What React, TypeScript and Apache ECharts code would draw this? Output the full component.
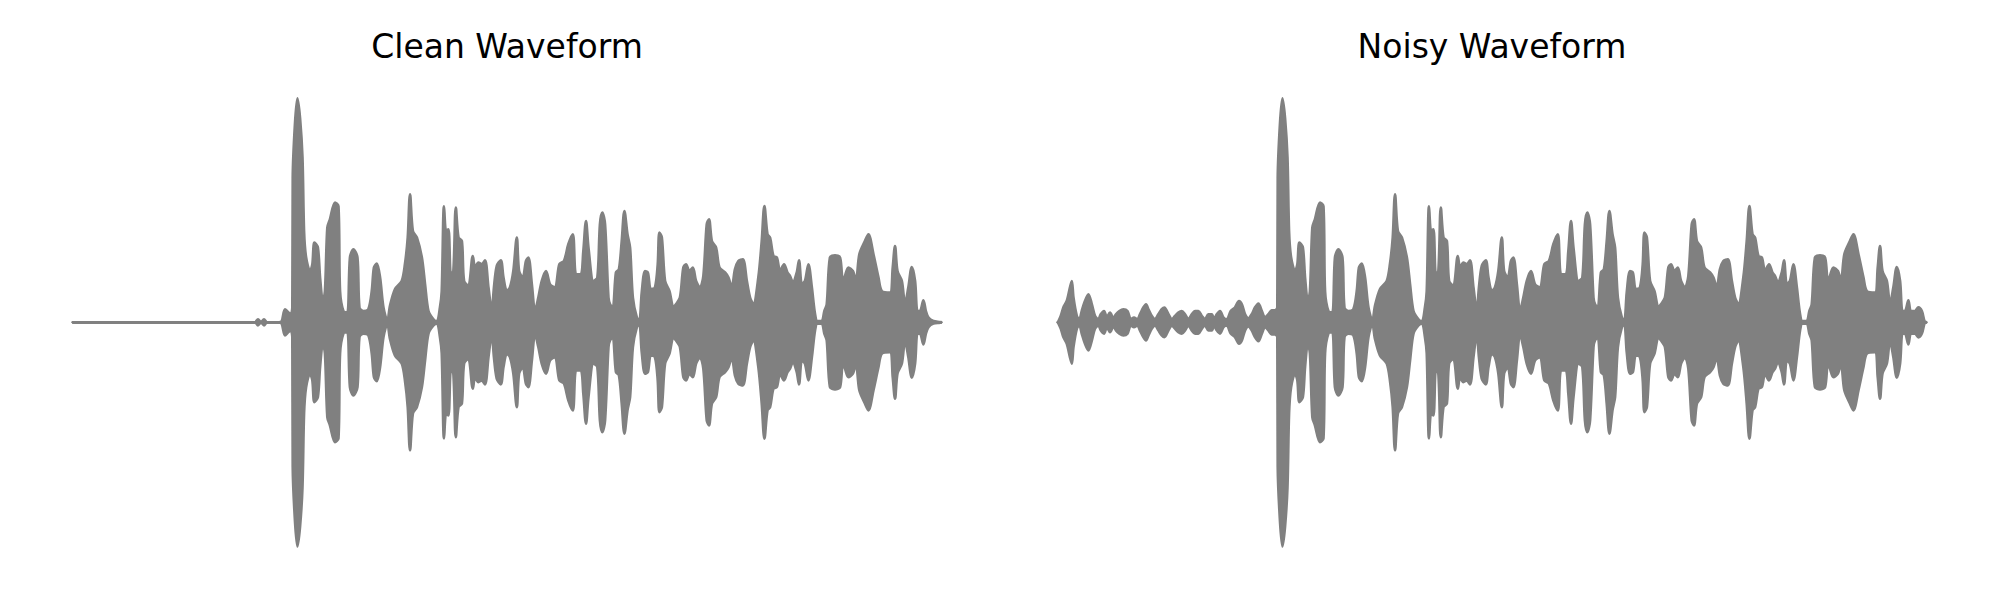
import React, { useEffect, useRef } from "react";
import * as echarts from "echarts";

const titles = ["Clean Waveform", "Noisy Waveform"];

// Envelope of the clean recording: [time (s), peak amplitude]
const cleanEnvelope: number[][] = [
  [0, 0], [0.91, 0], [0.925, 0.012], [0.94, 0], [0.955, 0.012], [0.97, 0], [1.03, 0],
  [1.044, 0.005], [1.06, 0.052], [1.077, 0.039], [1.089, 0.032], [1.097, 0.059],
  [1.099, 0.579], [1.11, 0.792], [1.122, 0.896], [1.135, 0.816], [1.147, 0.66],
  [1.155, 0.364], [1.165, 0.26], [1.185, 0.204], [1.197, 0.232], [1.207, 0.319],
  [1.224, 0.299], [1.235, 0.179], [1.249, 0.084], [1.26, 0.124], [1.272, 0.379],
  [1.285, 0.412], [1.31, 0.479], [1.327, 0.464], [1.335, 0.124], [1.352, 0.044],
  [1.372, 0.039], [1.385, 0.259], [1.402, 0.292], [1.422, 0.259], [1.432, 0.059],
  [1.452, 0.045], [1.477, 0.052], [1.494, 0.124], [1.505, 0.219], [1.519, 0.235],
  [1.535, 0.179], [1.552, 0.059], [1.572, 0.005], [1.585, 0.065], [1.61, 0.132],
  [1.644, 0.165], [1.66, 0.232], [1.674, 0.339], [1.685, 0.512], [1.699, 0.365],
  [1.719, 0.339], [1.744, 0.259], [1.76, 0.152], [1.777, 0.045], [1.802, 0.012],
  [1.82, 0.004], [1.835, 0.059], [1.844, 0.124], [1.855, 0.464], [1.865, 0.364],
  [1.877, 0.372], [1.889, 0.192], [1.902, 0.204], [1.914, 0.459], [1.927, 0.339],
  [1.944, 0.325], [1.955, 0.165], [1.977, 0.145], [1.999, 0.265], [2.01, 0.219],
  [2.027, 0.239], [2.044, 0.232], [2.06, 0.248], [2.077, 0.139], [2.094, 0.045],
  [2.105, 0.139], [2.119, 0.225], [2.139, 0.248], [2.152, 0.179], [2.169, 0.125],
  [2.185, 0.139], [2.202, 0.205], [2.219, 0.339], [2.23, 0.205], [2.249, 0.179],
  [2.265, 0.245], [2.277, 0.259], [2.294, 0.152], [2.31, 0.045], [2.327, 0.099],
  [2.344, 0.165], [2.365, 0.205], [2.385, 0.152], [2.41, 0.139], [2.432, 0.232],
  [2.455, 0.245], [2.477, 0.312], [2.499, 0.352], [2.515, 0.192], [2.539, 0.192],
  [2.552, 0.285], [2.565, 0.405], [2.577, 0.299], [2.602, 0.165], [2.622, 0.179],
  [2.635, 0.392], [2.647, 0.439], [2.66, 0.392], [2.677, 0.099], [2.685, 0.072],
  [2.699, 0.059], [2.715, 0.199], [2.73, 0.212], [2.744, 0.325], [2.757, 0.445],
  [2.772, 0.352], [2.785, 0.299], [2.799, 0.099], [2.819, 0.019], [2.832, 0.008],
  [2.844, 0.119], [2.86, 0.205], [2.874, 0.199], [2.889, 0.132], [2.91, 0.139],
  [2.924, 0.232], [2.932, 0.359], [2.944, 0.339], [2.96, 0.165], [2.982, 0.125],
  [3.002, 0.059], [3.015, 0.072], [3.035, 0.099], [3.052, 0.219], [3.065, 0.232],
  [3.082, 0.205], [3.099, 0.219], [3.115, 0.165], [3.135, 0.139], [3.152, 0.185],
  [3.169, 0.392], [3.18, 0.412], [3.194, 0.325], [3.215, 0.299], [3.232, 0.219],
  [3.26, 0.199], [3.277, 0.179], [3.294, 0.139], [3.31, 0.212], [3.327, 0.245],
  [3.349, 0.252], [3.369, 0.165], [3.385, 0.099], [3.402, 0.072], [3.427, 0.179],
  [3.444, 0.325], [3.457, 0.465], [3.472, 0.352], [3.485, 0.339], [3.502, 0.265],
  [3.519, 0.259], [3.535, 0.205], [3.555, 0.232], [3.572, 0.199], [3.585, 0.185],
  [3.599, 0.159], [3.619, 0.199], [3.63, 0.248], [3.644, 0.152], [3.66, 0.165],
  [3.677, 0.232], [3.694, 0.139], [3.71, 0.032], [3.722, 0.005], [3.744, 0.005],
  [3.757, 0.045], [3.769, 0.072], [3.785, 0.259], [3.81, 0.268], [3.835, 0.259],
  [3.849, 0.165], [3.86, 0.185], [3.877, 0.219], [3.899, 0.205], [3.915, 0.165],
  [3.932, 0.272], [3.96, 0.325], [3.977, 0.352], [4.002, 0.272], [4.027, 0.179],
  [4.044, 0.125], [4.085, 0.119], [4.099, 0.219], [4.11, 0.305], [4.122, 0.205],
  [4.144, 0.165], [4.16, 0.072], [4.177, 0.139], [4.194, 0.221], [4.21, 0.165],
  [4.222, 0.045], [4.235, 0.045], [4.252, 0.088], [4.264, 0.045], [4.277, 0.019],
  [4.302, 0.005], [4.335, 0.001], [4.34, 0],
];

// Noise bursts before speech onset in the noisy recording: [time (s), amplitude]
const noiseLead: number[][] = [
  [0, 0], [0.014, 0.025], [0.027, 0.059], [0.044, 0.085], [0.06, 0.139], [0.069, 0.165],
  [0.077, 0.099], [0.094, 0.025], [0.107, 0.012], [0.119, 0.045], [0.135, 0.085],
  [0.152, 0.112], [0.169, 0.072], [0.185, 0.025], [0.202, 0.012], [0.214, 0.032],
  [0.23, 0.045], [0.244, 0.019], [0.26, 0.039], [0.277, 0.016], [0.29, 0.032],
  [0.307, 0.045], [0.327, 0.052], [0.347, 0.045], [0.364, 0.012], [0.38, 0.019],
  [0.397, 0.012], [0.41, 0.032], [0.427, 0.059], [0.44, 0.072], [0.452, 0.052],
  [0.469, 0.025], [0.485, 0.012], [0.502, 0.032], [0.519, 0.052], [0.532, 0.059],
  [0.552, 0.032], [0.569, 0.012], [0.585, 0.025], [0.602, 0.039], [0.619, 0.045],
  [0.635, 0.032], [0.652, 0.012], [0.669, 0.032], [0.685, 0.045], [0.702, 0.045],
  [0.719, 0.025], [0.735, 0.012], [0.752, 0.032], [0.769, 0.032], [0.78, 0.012],
  [0.794, 0.032], [0.81, 0.045], [0.827, 0.019], [0.844, 0.012], [0.864, 0.045],
  [0.885, 0.059], [0.905, 0.085], [0.919, 0.072], [0.935, 0.032], [0.952, 0.016],
  [0.969, 0.032], [0.985, 0.059], [1.002, 0.075], [1.019, 0.045], [1.035, 0.019],
  [1.052, 0.032], [1.069, 0.048], [1.085, 0.048], [1.097, 0.059],
];

// Noise at the very end of the noisy recording
const noiseTail: number[][] = [
  [4.285, 0.045], [4.302, 0.06], [4.319, 0.045], [4.332, 0.005], [4.34, 0],
];

const speechStart = 1.098;
const speechEnd = 4.265;
const duration = 4.34;

const noisyEnvelope: number[][] = [
  ...noiseLead,
  ...cleanEnvelope.filter((p) => p[0] > speechStart && p[0] <= speechEnd),
  ...noiseTail,
];

const GRAY = "#808080";

function waveSeries(env: number[][], idx: number) {
  const common = {
    type: "line",
    xAxisIndex: idx,
    yAxisIndex: idx,
    symbol: "none",
    silent: true,
    smooth: 0.3,
    lineStyle: { color: GRAY, width: 2.8, cap: "round", join: "round" },
  };
  return [
    // upper half of the envelope, filled down to zero
    {
      ...common,
      data: env.map((p) => [p[0], p[1]]),
      areaStyle: { color: GRAY, opacity: 1, origin: 0 },
    },
    // lower half of the envelope, filled up to zero
    {
      ...common,
      data: env.map((p) => [p[0], -p[1]]),
      areaStyle: { color: GRAY, opacity: 1, origin: 0 },
    },
    // centre trace along zero, closes the seam between the two halves
    {
      ...common,
      smooth: false,
      data: env.map((p) => [p[0], 0]),
    },
  ];
}

export default function App() {
  const ref = useRef<HTMLDivElement>(null);
  useEffect(() => {
    if (!ref.current) return;
    const chart = echarts.init(ref.current, null, { renderer: "svg" });
    const lefts = [73, 1058];
    const titleX = [507, 1492];
    chart.setOption({
      animation: false,
      backgroundColor: "#ffffff",
      grid: lefts.map((l) => ({ left: l, top: 72.3, width: 868, height: 500 })),
      xAxis: lefts.map((_, i) => ({
        type: "value",
        gridIndex: i,
        min: 0,
        max: duration,
        show: false,
      })),
      yAxis: lefts.map((_, i) => ({
        type: "value",
        gridIndex: i,
        min: -1,
        max: 1,
        show: false,
      })),
      graphic: titles.map((t, i) => ({
        type: "text",
        x: titleX[i],
        y: 46.3,
        style: {
          text: t,
          fill: "#000000",
          font: '33px "DejaVu Sans"',
          textAlign: "center",
          textVerticalAlign: "middle",
        },
      })),
      series: [...waveSeries(cleanEnvelope, 0), ...waveSeries(noisyEnvelope, 1)],
    });
    return () => chart.dispose();
  }, []);
  return (
    <div
      ref={ref}
      style={{ position: "fixed", left: 0, top: 0, width: 2000, height: 600, background: "#fff" }}
    />
  );
}
